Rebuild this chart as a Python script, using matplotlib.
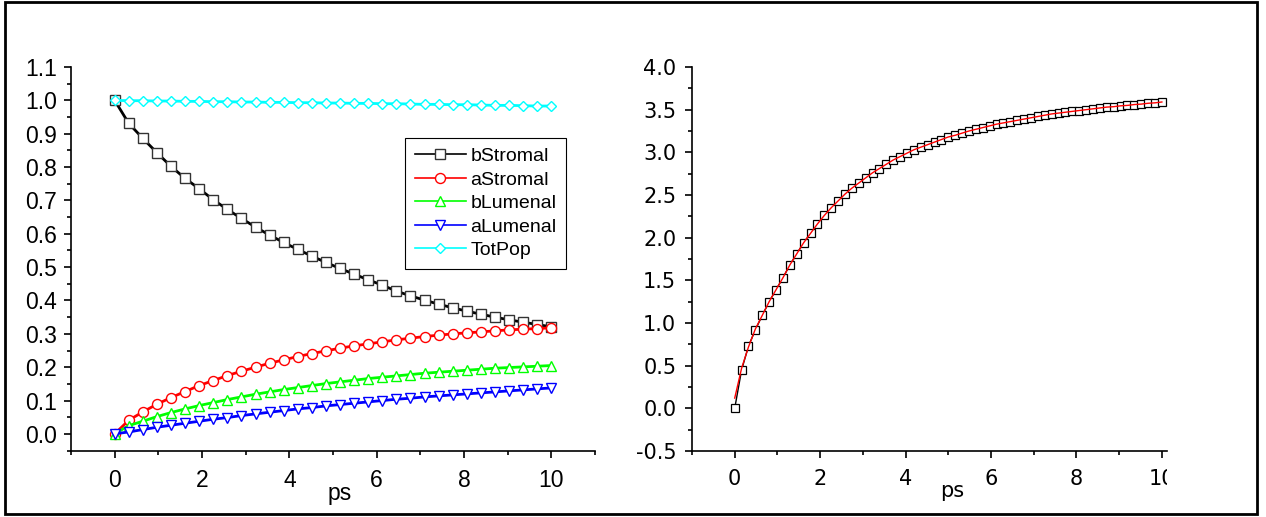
import matplotlib
matplotlib.use("Agg")
import matplotlib.pyplot as plt
from matplotlib.ticker import MultipleLocator, FormatStrFormatter
from matplotlib.patches import Rectangle
from matplotlib.transforms import Bbox, TransformedBbox
import numpy as np

plt.rcParams['font.family'] = ['Liberation Sans', 'DejaVu Sans']
plt.rcParams['axes.unicode_minus'] = False

# left panel: populations (one point per marker, ~0.32 ps apart)
t_pop = np.linspace(0, 10, 32)
b_stromal = [1.000, 0.931, 0.886, 0.843, 0.802, 0.766, 0.735, 0.702, 0.673, 0.646,
             0.620, 0.596, 0.574, 0.553, 0.533, 0.514, 0.496, 0.479, 0.462, 0.446,
             0.428, 0.414, 0.401, 0.389, 0.378, 0.368, 0.359, 0.350, 0.342, 0.335,
             0.328, 0.321]
a_stromal = [0.000, 0.041, 0.066, 0.089, 0.109, 0.127, 0.145, 0.160, 0.175, 0.188,
             0.200, 0.212, 0.222, 0.232, 0.241, 0.249, 0.257, 0.264, 0.270, 0.276,
             0.282, 0.287, 0.292, 0.296, 0.300, 0.303, 0.306, 0.309, 0.312, 0.314,
             0.316, 0.318]
b_lumenal = [0.000, 0.025, 0.038, 0.052, 0.064, 0.075, 0.085, 0.094, 0.103, 0.111,
             0.119, 0.126, 0.133, 0.139, 0.145, 0.151, 0.156, 0.161, 0.166, 0.170,
             0.174, 0.178, 0.182, 0.185, 0.188, 0.191, 0.194, 0.197, 0.199, 0.201,
             0.203, 0.205]
a_lumenal = [0.000, 0.006, 0.013, 0.020, 0.026, 0.032, 0.038, 0.044, 0.049, 0.055,
             0.060, 0.065, 0.070, 0.075, 0.079, 0.084, 0.088, 0.092, 0.096, 0.100,
             0.104, 0.107, 0.111, 0.114, 0.117, 0.120, 0.123, 0.126, 0.129, 0.132,
             0.135, 0.138]
tot_pop = [1.000, 0.999, 0.999, 0.998, 0.998, 0.997, 0.997, 0.996, 0.996, 0.995,
           0.995, 0.994, 0.994, 0.993, 0.993, 0.992, 0.992, 0.991, 0.991, 0.990,
           0.990, 0.989, 0.988, 0.988, 0.987, 0.987, 0.986, 0.985, 0.985, 0.984,
           0.983, 0.983]

# right panel: rise curve and its fit (~0.16 ps apart)
t_rise = np.linspace(0, 10, 63)
rise = [0.00, 0.45, 0.73, 0.92, 1.09, 1.25, 1.39, 1.53, 1.68, 1.81,
        1.94, 2.05, 2.16, 2.26, 2.35, 2.43, 2.51, 2.58, 2.64, 2.70,
        2.76, 2.81, 2.86, 2.91, 2.95, 2.99, 3.03, 3.06, 3.09, 3.12,
        3.15, 3.18, 3.20, 3.225, 3.25, 3.27, 3.29, 3.31, 3.33, 3.345,
        3.36, 3.375, 3.39, 3.405, 3.42, 3.435, 3.45, 3.46, 3.47, 3.48,
        3.49, 3.50, 3.51, 3.52, 3.53, 3.535, 3.545, 3.55, 3.56, 3.565,
        3.575, 3.58, 3.59]
rise_fit = [0.12, 0.47, 0.72, 0.93, 1.09, 1.25, 1.39, 1.53, 1.68, 1.81,
            1.94, 2.05, 2.16, 2.26, 2.35, 2.43, 2.51, 2.58, 2.64, 2.70,
            2.76, 2.81, 2.86, 2.91, 2.95, 2.99, 3.03, 3.06, 3.09, 3.12,
            3.15, 3.18, 3.20, 3.225, 3.25, 3.27, 3.29, 3.31, 3.33, 3.345,
            3.36, 3.375, 3.39, 3.405, 3.42, 3.435, 3.45, 3.46, 3.47, 3.48,
            3.49, 3.50, 3.51, 3.52, 3.53, 3.535, 3.545, 3.55, 3.56, 3.565,
            3.575, 3.58, 3.59]

W, H = 1266, 517
fig = plt.figure(figsize=(W / 100, H / 100), dpi=100)


def px_axes(x0, x1, y0, y1):
    # pixel box (from top-left) -> figure fraction
    return fig.add_axes([x0 / W, 1 - y1 / H, (x1 - x0) / W, (y1 - y0) / H])


def style(ax, size, ypad, family):
    for s in ('top', 'right'):
        ax.spines[s].set_visible(False)
    for s in ('left', 'bottom'):
        ax.spines[s].set_linewidth(1.2)
    ax.tick_params(which='major', direction='out', length=5.3, width=1.2, labelsize=size)
    ax.tick_params(which='minor', direction='out', length=3, width=1.2)
    ax.tick_params(axis='x', which='major', pad=8)
    ax.tick_params(axis='y', which='major', pad=ypad)
    for lab in ax.get_xticklabels() + ax.get_yticklabels():
        lab.set_family(family)
    ax.set_facecolor('none')


ax1 = px_axes(71, 595, 67, 450.6)
ax2 = px_axes(692, 1167, 67, 451)

series = [
    (b_stromal, 'bStromal', 'black', 's', '#333333', 6.5),
    (a_stromal, 'aStromal', 'red', 'o', 'red', 7.2),
    (b_lumenal, 'bLumenal', '#00ff00', '^', '#00ff00', 7.8),
    (a_lumenal, 'aLumenal', 'blue', 'v', 'blue', 7.8),
    (tot_pop, 'TotPop', 'cyan', 'D', 'cyan', 5.2),
]
for vals, name, col, mk, ec, ms in series:
    ax1.plot(t_pop, vals, color=col, lw=2.0, marker=mk, ms=ms, mfc='white',
             mec=ec, mew=1.0, label=name)

ax1.set_xlim(-1, 11)
ax1.set_ylim(-0.05, 1.1)
ax1.xaxis.set_major_locator(MultipleLocator(2))
ax1.xaxis.set_minor_locator(MultipleLocator(1))
ax1.yaxis.set_major_locator(MultipleLocator(0.1))
ax1.yaxis.set_minor_locator(MultipleLocator(0.05))
ax1.yaxis.set_major_formatter(FormatStrFormatter('%.1f'))
style(ax1, 16.5, 5, 'Liberation Sans')
ax1.text(0.513, -0.128, 'ps', transform=ax1.transAxes, ha='center',
         va='baseline', fontsize=16.5)

leg = ax1.legend(loc='lower left', bbox_to_anchor=(0.637, 0.474), borderaxespad=0,
                 fancybox=False, edgecolor='black', framealpha=1, fontsize=14,
                 handlelength=2.63, handletextpad=0.25, labelspacing=0.3,
                 borderpad=0.5)
leg.get_frame().set_linewidth(0.8)
for ln in leg.get_lines():
    ln.set_linewidth(1.2)

ax2.plot(t_rise, rise, color='black', lw=1.0, marker='s', ms=5.2, mfc='white',
         mec='black', mew=0.9)
ax2.plot(t_rise, rise_fit, color='red', lw=1.0)
ax2.set_xlim(-1, 10.12)
ax2.set_ylim(-0.5, 4.0)
ax2.xaxis.set_major_locator(MultipleLocator(2))
ax2.xaxis.set_minor_locator(MultipleLocator(1))
ax2.yaxis.set_major_locator(MultipleLocator(0.5))
ax2.yaxis.set_minor_locator(MultipleLocator(0.25))
ax2.yaxis.set_major_formatter(FormatStrFormatter('%.1f'))
style(ax2, 15, 6, 'DejaVu Sans')
ax2.text(0.547, -0.12, 'ps', transform=ax2.transAxes, ha='center',
         va='baseline', fontsize=15, family='DejaVu Sans')

# the last x label is cut at the end of the axis, as in the original
clip = TransformedBbox(Bbox([[0, 0], [1167 / W, 1]]), fig.transFigure)
for lab in ax2.get_xticklabels():
    lab.set_clip_box(clip)
    lab.set_clip_on(True)

# outer frame
fig.patches.append(Rectangle((5.3 / W, 1 - 513.5 / H), (1256.7 - 5.3) / W,
                             (513.5 - 1.5) / H, transform=fig.transFigure,
                             fill=False, lw=2.0, ec='black'))

fig.savefig('out.png', dpi=100)
